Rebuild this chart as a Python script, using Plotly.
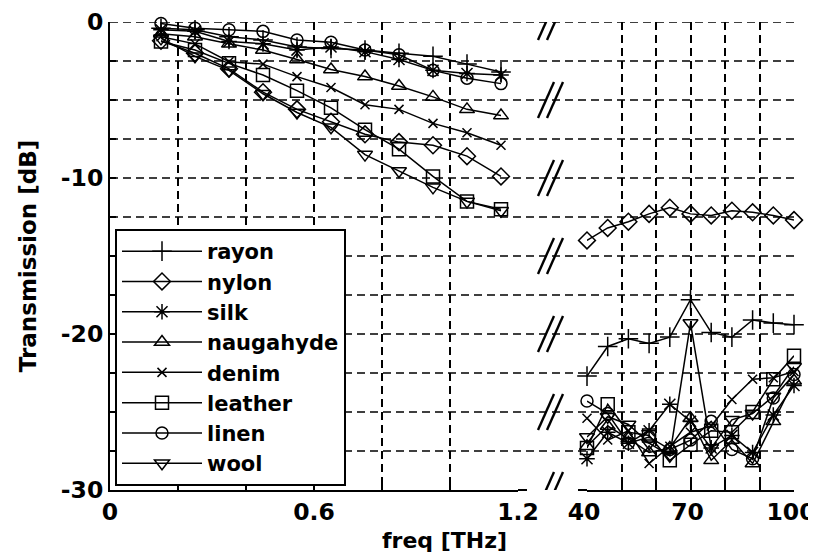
import plotly.graph_objects as go

# ---------------- data ----------------
materials = ["rayon", "nylon", "silk", "naugahyde", "denim", "leather", "linen", "wool"]

freq_low = [0.15, 0.25, 0.35, 0.45, 0.55, 0.65, 0.75, 0.85, 0.95, 1.05, 1.15]
freq_high = [40, 46, 52, 58, 64, 70, 76, 82, 88, 94, 100]

rayon_low = [-0.4, -0.5, -0.95, -1.15, -1.6, -1.7, -1.8, -2.0, -2.2, -2.7, -3.2]
nylon_low = [-1.2, -2.0, -3.0, -4.5, -5.6, -6.4, -7.2, -7.7, -7.9, -8.6, -9.9]
silk_low = [-0.5, -0.6, -1.25, -1.4, -1.8, -1.6, -1.9, -2.4, -3.1, -3.3, -3.4]
naugahyde_low = [-0.75, -0.95, -1.4, -1.8, -2.4, -3.05, -3.5, -4.1, -4.8, -5.6, -6.0]
denim_low = [-0.95, -1.4, -2.55, -2.7, -3.5, -4.2, -5.3, -5.6, -6.5, -7.1, -7.9]
leather_low = [-1.25, -1.8, -2.65, -3.4, -4.4, -5.5, -6.9, -8.15, -9.9, -11.5, -12.0]
linen_low = [-0.1, -0.4, -0.5, -0.6, -1.15, -1.3, -1.8, -2.1, -3.1, -3.6, -3.95]
wool_low = [-1.05, -2.2, -3.1, -4.6, -5.8, -6.75, -8.5, -9.55, -10.6, -11.5, -12.1]

rayon_high = [-22.7, -20.8, -20.3, -20.6, -20.2, -17.8, -19.9, -20.2, -19.1, -19.3, -19.4]
nylon_high = [-14.0, -13.2, -12.8, -12.3, -11.9, -12.3, -12.4, -12.1, -12.2, -12.4, -12.7]
silk_high = [-28.0, -26.3, -27.0, -26.2, -24.5, -25.6, -27.3, -26.5, -27.6, -25.2, -23.3]
naugahyde_high = [-27.2, -25.9, -26.7, -27.6, -27.3, -25.4, -28.1, -26.8, -28.3, -25.6, -23.0]
denim_high = [-25.4, -26.8, -26.2, -28.3, -27.2, -26.3, -25.9, -24.2, -22.9, -22.8, -22.4]
leather_high = [-27.3, -24.5, -26.3, -26.5, -28.1, -27.1, -26.2, -26.3, -25.0, -22.9, -21.4]
linen_high = [-24.3, -25.1, -27.0, -26.6, -27.4, -26.8, -25.6, -27.4, -28.0, -24.1, -22.6]
wool_high = [-26.6, -25.3, -25.8, -27.0, -27.8, -19.3, -27.3, -25.5, -25.1, -24.0, -22.1]

low_values = [rayon_low, nylon_low, silk_low, naugahyde_low, denim_low, leather_low, linen_low, wool_low]
high_values = [rayon_high, nylon_high, silk_high, naugahyde_high, denim_high, leather_high, linen_high, wool_high]

y_ticks = [0, -2.5, -5, -7.5, -10, -12.5, -15, -17.5, -20, -22.5, -25, -27.5, -30]
y_ticktext = ["0", "", "", "", "-10", "", "", "", "-20", "", "", "", "-30"]
x_low_ticks = [0, 0.2, 0.4, 0.6, 0.8, 1.0, 1.2]
x_low_ticktext = ["0", "", "", "0.6", "", "", "1.2"]
x_high_ticks = [40, 50, 60, 70, 80, 90, 100]
x_high_ticktext = ["40", "", "", "70", "", "", "100"]
break_levels = [0, -5, -10, -15, -20, -25, -30]

# ---------------- style ----------------
symbols = ["cross-thin-open", "diamond-open", "asterisk-open", "triangle-up-open",
           "x-thin-open", "square-open", "circle-open", "triangle-down-open"]
sizes = [14, 13, 13, 13, 9, 13, 12, 13]

FONT = "DejaVu Sans"
PAGE_OFF = 8                      # default body margin of the html page
W, H = 816 - PAGE_OFF, 559 - PAGE_OFF
# target plot box in window pixels: x 110..794, y 22..490
ML, MT = 110 - PAGE_OFF, 22 - PAGE_OFF
MR, MB = W - (794 - PAGE_OFF), H - (490 - PAGE_OFF)
plot_w = W - ML - MR
plot_h = H - MT - MB


def px(xw):  # window x pixel -> paper fraction
    return (xw - 110) / plot_w


def py(yw):  # window y pixel -> paper fraction
    return (490 - yw) / plot_h


x_left_end = px(518)
x_right_start = px(587)
break_x = px(551)

fig = go.Figure()
for i, name in enumerate(materials):
    mk = dict(symbol=symbols[i], size=sizes[i], color="black",
              line=dict(color="black", width=1.5))
    fig.add_trace(go.Scatter(x=freq_low, y=low_values[i], mode="lines+markers",
                             name=name, legendgroup=name, showlegend=True,
                             line=dict(color="black", width=1.5), marker=mk,
                             cliponaxis=False, xaxis="x", yaxis="y"))
    fig.add_trace(go.Scatter(x=freq_high, y=high_values[i], mode="lines+markers",
                             name=name, legendgroup=name, showlegend=False,
                             line=dict(color="black", width=1.5), marker=mk,
                             cliponaxis=False, xaxis="x2", yaxis="y"))

shapes = []
# horizontal dashed grid across the full width (incl. the axis break)
for yv in y_ticks[:-1]:
    shapes.append(dict(type="line", xref="paper", yref="y", x0=0, x1=1, y0=yv, y1=yv,
                       line=dict(color="black", width=1.6, dash="8px,5px"), layer="below"))
# short continuations of the bottom axis line on both sides of the break
shapes.append(dict(type="line", xref="paper", yref="paper", x0=x_left_end, x1=px(527),
                   y0=0, y1=0, line=dict(color="black", width=2)))
shapes.append(dict(type="line", xref="paper", yref="paper", x0=px(578), x1=x_right_start,
                   y0=0, y1=0, line=dict(color="black", width=2)))
# axis-break marks "//"
for yv in break_levels:
    for dx in (-5, 4):
        shapes.append(dict(type="line", xref="paper", yref="y",
                           xsizemode="pixel", ysizemode="pixel",
                           xanchor=break_x, yanchor=yv,
                           x0=dx - 8, y0=-18, x1=dx + 8, y1=18,
                           line=dict(color="black", width=2.4)))

TICKFONT = dict(family=FONT, size=23.5, color="black", weight="bold")
axis_common = dict(showgrid=True, gridcolor="black", gridwidth=1.6, griddash="8px,5px",
                   showline=True, linecolor="black", linewidth=2, ticks="inside",
                   ticklen=6, tickwidth=1.5, tickcolor="black", zeroline=False,
                   automargin=False, tickfont=TICKFONT)

fig.update_layout(
    width=W, height=H,
    margin=dict(l=ML, r=MR, t=MT, b=MB, pad=0, autoexpand=False),
    paper_bgcolor="white", plot_bgcolor="white",
    font=dict(family=FONT, color="black"),
    xaxis=dict(domain=[0, x_left_end], range=[0, 1.2], tickmode="array",
               tickvals=x_low_ticks, ticktext=x_low_ticktext, anchor="y", **axis_common),
    xaxis2=dict(domain=[x_right_start, 1], range=[40, 100], tickmode="array",
                tickvals=x_high_ticks, ticktext=x_high_ticktext, anchor="y",
                ticklabelshift=-3, **axis_common),
    yaxis=dict(range=[-30, 0], tickmode="array", tickvals=y_ticks, ticktext=y_ticktext,
               anchor="x", showgrid=False, showline=True, linecolor="black", linewidth=2,
               ticks="inside", ticklen=6, tickwidth=1.5, tickcolor="black", zeroline=False,
               automargin=False, tickfont=TICKFONT,
               title=dict(text="Transmission [dB]", standoff=18,
                          font=dict(family=FONT, size=23, color="black", weight="bold"))),
    legend=dict(x=px(115), y=py(229),
                xanchor="left", yanchor="top", bgcolor="white",
                bordercolor="black", borderwidth=2, itemwidth=80,
                font=dict(family=FONT, size=21, color="black", weight="bold"),
                tracegroupgap=0),
    shapes=shapes,
    annotations=[dict(text="freq [THz]", xref="paper", yref="paper",
                      x=px(444), y=py(540), xanchor="center", yanchor="middle",
                      showarrow=False,
                      font=dict(family=FONT, size=22, color="black", weight="bold"))],
)

fig.write_html("out.html")
